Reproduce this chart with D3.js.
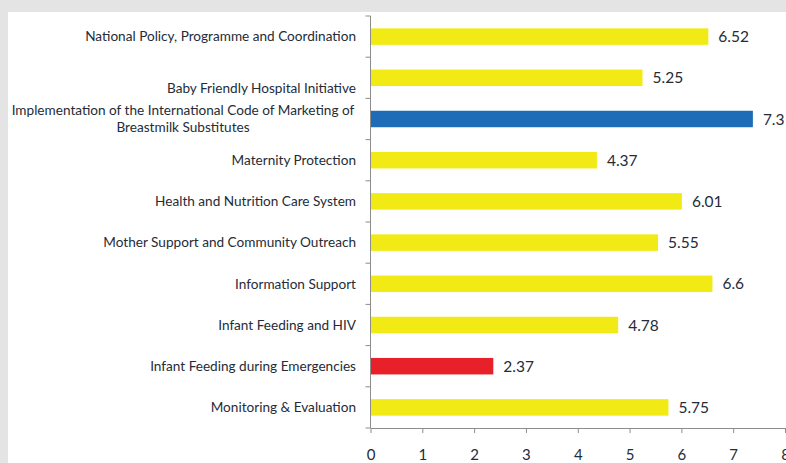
<!DOCTYPE html>
<html>
<head>
<meta charset="utf-8">
<script src="https://cdn.jsdelivr.net/npm/d3@7"></script>
<style>
  body { margin: 0; background: #e4e4e4; }
  svg { display: block; }
  .axis path, .axis line { stroke: #8c8c8c; }
  .cat { font-family: Lato, "Open Sans", sans-serif; font-size: 13.6px; fill: #252c38; }
  .val { font-family: Lato, "Open Sans", sans-serif; font-size: 15.5px; fill: #252c38; }
  .axis text { font-family: Lato, "Open Sans", sans-serif; font-size: 15px; fill: #252c38; }
</style>
</head>
<body>
<svg id="chart" width="786" height="463"></svg>
<script>
// Data
const categories = [
  ["National Policy, Programme and Coordination"],
  ["", "Baby Friendly Hospital Initiative "],
  ["Implementation of the International Code of Marketing of", "Breastmilk Substitutes"],
  ["Maternity Protection"],
  ["Health and Nutrition Care System"],
  ["Mother Support and Community Outreach"],
  ["Information Support"],
  ["Infant Feeding and HIV"],
  ["Infant Feeding during Emergencies"],
  ["Monitoring & Evaluation"]
];
// blue bar reaches ~7.38; its label is clipped to "7.3" at the right edge in the original
const values = [6.52, 5.25, 7.38, 4.37, 6.01, 5.55, 6.6, 4.78, 2.37, 5.75];
const valueLabels = ["6.52", "5.25", "7.3", "4.37", "6.01", "5.55", "6.6", "4.78", "2.37", "5.75"];
const barColors = ["#f2ea14", "#f2ea14", "#1e6cb8", "#f2ea14", "#f2ea14",
                   "#f2ea14", "#f2ea14", "#f2ea14", "#e8202a", "#f2ea14"];
const xTicks = [0, 1, 2, 3, 4, 5, 6, 7, 8];

const svg = d3.select("#chart");
const width = +svg.attr("width");
const height = +svg.attr("height");

// white plot panel on the grey page
svg.append("rect")
  .attr("x", 8).attr("y", 12)
  .attr("width", width - 8).attr("height", height - 12)
  .attr("fill", "#ffffff");

const plotTop = 16, plotBottom = 428;

const x = d3.scaleLinear()
  .domain([0, 8])
  .range([370.5, 785]);

const y = d3.scaleBand()
  .domain(d3.range(categories.length))
  .range([plotTop, plotBottom])
  .paddingInner(0.6)
  .paddingOuter(0.3);

const g = svg.append("g");

//_________________ Bars
g.selectAll(".bar")
  .data(values)
  .enter().append("rect")
  .attr("class", "bar")
  .attr("x", x(0))
  .attr("y", (d, i) => y(i))
  .attr("width", d => x(d) - x(0))
  .attr("height", y.bandwidth())
  .attr("fill", (d, i) => barColors[i]);

// value labels
g.selectAll(".val")
  .data(values)
  .enter().append("text")
  .attr("class", "val")
  .attr("x", d => x(d) + 10)
  .attr("y", (d, i) => y(i) + y.bandwidth() / 2)
  .attr("dy", "0.36em")
  .text((d, i) => valueLabels[i]);

//_________________ Axes
const step = (plotBottom - plotTop) / categories.length;

// x axis
const xAxis = g.append("g")
  .attr("class", "axis")
  .attr("transform", `translate(0,${plotBottom})`)
  .call(d3.axisBottom(x).tickValues(xTicks).tickSize(5).tickSizeOuter(0).tickFormat(d3.format("d")));
xAxis.selectAll("text").attr("dy", "1.6em");

// y axis with ticks at category boundaries
const yAxis = g.append("g").attr("class", "axis");
yAxis.append("line")
  .attr("x1", x(0)).attr("x2", x(0))
  .attr("y1", plotTop).attr("y2", plotBottom);
yAxis.selectAll(".ytick")
  .data(d3.range(categories.length + 1))
  .enter().append("line")
  .attr("x1", x(0) - 5).attr("x2", x(0))
  .attr("y1", d => plotTop + d * step)
  .attr("y2", d => plotTop + d * step);

// category labels (multi-line ones are centred, as in the original)
const lineH = 17;
categories.forEach((lines, i) => {
  const wrapped = lines.length > 1 && lines[0] !== "";
  const cy = y(i) + y.bandwidth() / 2;
  const t = g.append("text")
    .attr("class", "cat")
    .attr("text-anchor", wrapped ? "middle" : "end");
  lines.forEach((ln, k) => {
    if (ln === "") return;
    t.append("tspan")
      .attr("x", wrapped ? 183 : 356)
      .attr("y", cy + (k - (lines.length - 1) / 2) * lineH + (lines[0] === "" ? 1.5 : 0))
      .attr("dy", "0.36em")
      .text(ln);
  });
});
</script>
</body>
</html>
